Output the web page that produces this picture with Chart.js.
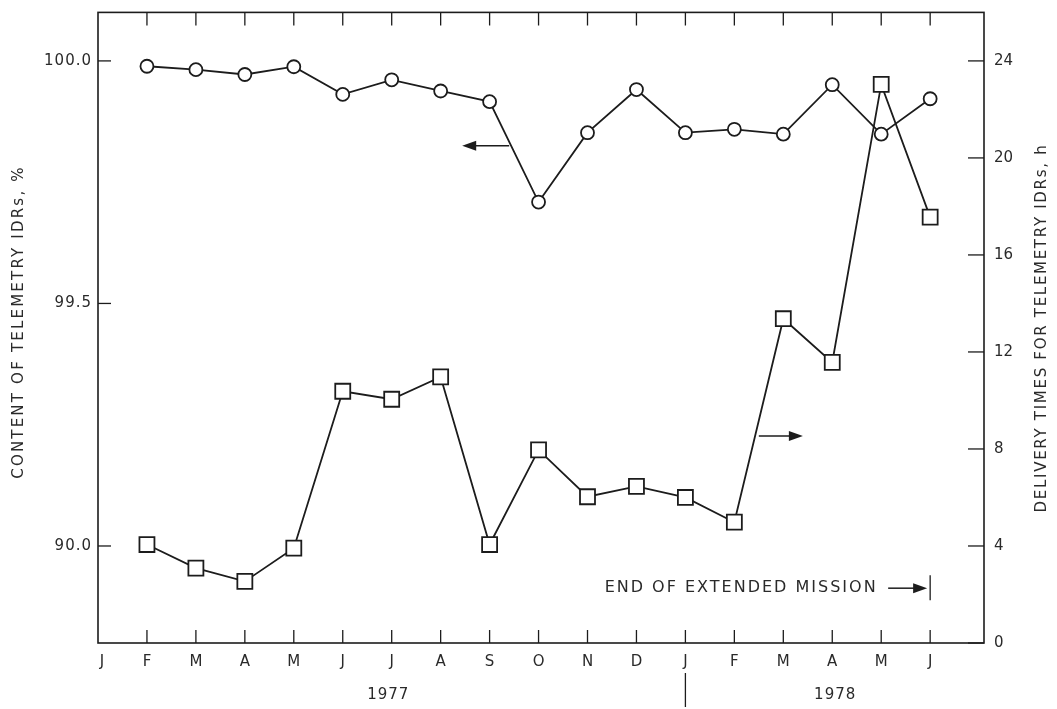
<!DOCTYPE html>
<html>
<head>
<meta charset="utf-8">
<script src="https://cdn.jsdelivr.net/npm/chart.js@4/dist/chart.umd.min.js"></script>
<style>
  html, body { margin: 0; padding: 0; background: #fff; }
</style>
</head>
<body>
<canvas id="chart" width="1057" height="709"></canvas>
<script>
// month ticks along the bottom, Jan 1977 .. Jun 1978 (index 0..17)
var months = ['J','F','M','A','M','J','J','A','S','O','N','D','J','F','M','A','M','J'];
// data runs Feb 1977 .. Jun 1978
var monthIndex = [1,2,3,4,5,6,7,8,9,10,11,12,13,14,15,16,17];

// content of telemetry IDRs, % (circles, left axis)
var contentPct = [99.989, 99.982, 99.972, 99.988, 99.931, 99.961, 99.938, 99.916,
                  99.709, 99.852, 99.941, 99.852, 99.859, 99.849, 99.951, 99.849, 99.922];
// delivery times for telemetry IDRs, h (squares, right axis)
var deliveryHours = [4.06, 3.09, 2.54, 3.91, 10.38, 10.05, 10.97, 4.06,
                     7.96, 6.03, 6.46, 6.0, 4.98, 13.37, 11.57, 23.03, 17.56];

var leftTicks = [99.0, 99.5, 100.0];
var leftTickLabels = ['90.0', '99.5', '100.0'];
var rightTicks = [0, 4, 8, 12, 16, 20, 24];
var years = ['1977', '1978'];
var yearPos = [5.93, 15.06];
var yearBreak = 12;
var missionEnd = 17;

var ink = '#1c1c1c';
var textInk = '#2a2a2a';
var font = '"DejaVu Sans", sans-serif';

function pts(vals) {
  return vals.map(function (v, i) { return { x: monthIndex[i], y: v }; });
}

function arrow(ctx, x1, y, x2) {
  // shaft from x1 to x2 with filled head at x2
  var dir = x2 > x1 ? 1 : -1;
  ctx.beginPath();
  ctx.moveTo(x1, y);
  ctx.lineTo(x2 - dir * 10, y);
  ctx.lineWidth = 1.5;
  ctx.stroke();
  ctx.beginPath();
  ctx.moveTo(x2, y);
  ctx.lineTo(x2 - dir * 14, y - 5);
  ctx.lineTo(x2 - dir * 14, y + 5);
  ctx.closePath();
  ctx.fill();
}

var frame = {
  id: 'frame',
  beforeDatasetsDraw: function (chart) {
    var ctx = chart.ctx, a = chart.chartArea;
    var sx = chart.scales.x, yl = chart.scales.yL, yr = chart.scales.yR;
    ctx.save();
    ctx.strokeStyle = ink;
    ctx.fillStyle = textInk;
    ctx.lineWidth = 1.6;
    ctx.strokeRect(a.left, a.top, a.right - a.left, a.bottom - a.top);

    // month ticks, top and bottom, pointing inward
    ctx.lineWidth = 1.3;
    ctx.font = '15px ' + font;
    ctx.textAlign = 'center';
    ctx.textBaseline = 'middle';
    months.forEach(function (m, i) {
      var x = sx.getPixelForValue(i);
      if (i > 0) {
        ctx.beginPath();
        ctx.moveTo(x, a.top); ctx.lineTo(x, a.top + 13);
        ctx.moveTo(x, a.bottom); ctx.lineTo(x, a.bottom - 13);
        ctx.stroke();
      }
      ctx.fillText(m, i === 0 ? x + 4 : x, a.bottom + 19);
    });

    // left axis
    ctx.textAlign = 'right';
    ctx.letterSpacing = '1px';
    leftTicks.forEach(function (v, i) {
      var y = yl.getPixelForValue(v);
      ctx.beginPath();
      ctx.moveTo(a.left, y); ctx.lineTo(a.left + 13, y);
      ctx.stroke();
      ctx.fillText(leftTickLabels[i], a.left - 6, y);
    });
    ctx.letterSpacing = '0px';

    // right axis
    ctx.textAlign = 'left';
    rightTicks.forEach(function (v) {
      var y = yr.getPixelForValue(v);
      ctx.beginPath();
      ctx.moveTo(a.right, y); ctx.lineTo(a.right - 16, y);
      ctx.stroke();
      ctx.fillText(String(v), a.right + 10, y);
    });

    // years
    ctx.textAlign = 'center';
    ctx.letterSpacing = '1px';
    years.forEach(function (t, i) {
      ctx.fillText(t, sx.getPixelForValue(yearPos[i]), a.bottom + 52);
    });
    ctx.letterSpacing = '0px';
    var xb = sx.getPixelForValue(yearBreak);
    ctx.beginPath();
    ctx.moveTo(xb, a.bottom + 30); ctx.lineTo(xb, a.bottom + 64);
    ctx.stroke();

    // axis titles
    ctx.font = '15px ' + font;
    ctx.save();
    ctx.letterSpacing = '2.2px';
    ctx.translate(19, 322);
    ctx.rotate(-Math.PI / 2);
    ctx.fillText('CONTENT OF TELEMETRY IDRs, %', 0, 0);
    ctx.restore();
    ctx.save();
    ctx.letterSpacing = '1.7px';
    ctx.translate(1042, 328);
    ctx.rotate(-Math.PI / 2);
    ctx.fillText('DELIVERY TIMES FOR TELEMETRY IDRs, h', 0, 0);
    ctx.restore();
    ctx.restore();
  },
  afterDatasetsDraw: function (chart) {
    var ctx = chart.ctx;
    var sx = chart.scales.x, yr = chart.scales.yR;
    ctx.save();
    ctx.strokeStyle = ink;
    ctx.fillStyle = ink;
    // series pointers
    arrow(ctx, sx.getPixelForValue(8.4), yr.getPixelForValue(20.5), sx.getPixelForValue(7.44));
    arrow(ctx, sx.getPixelForValue(13.5), yr.getPixelForValue(8.53), sx.getPixelForValue(14.4));

    // end of extended mission
    var yM = yr.getPixelForValue(2.26);
    var xM = sx.getPixelForValue(missionEnd);
    ctx.fillStyle = textInk;
    ctx.font = '16px ' + font;
    ctx.letterSpacing = '2px';
    ctx.textAlign = 'left';
    ctx.textBaseline = 'middle';
    ctx.fillText('END OF EXTENDED MISSION', sx.getPixelForValue(10.35), yM);
    ctx.letterSpacing = '0px';
    ctx.fillStyle = ink;
    arrow(ctx, xM - 42, yM, xM - 3);
    ctx.beginPath();
    ctx.lineWidth = 1.3;
    ctx.moveTo(xM, yM - 13); ctx.lineTo(xM, yM + 12);
    ctx.stroke();
    ctx.restore();
  }
};

new Chart(document.getElementById('chart').getContext('2d'), {
  type: 'line',
  data: {
    datasets: [{
      label: 'Content of telemetry IDRs, %',
      data: pts(contentPct),
      yAxisID: 'yL',
      borderColor: ink,
      borderWidth: 1.8,
      backgroundColor: '#fff',
      pointStyle: 'circle',
      pointRadius: 6.5,
      pointBorderWidth: 1.8,
      pointBackgroundColor: '#fff',
      pointBorderColor: ink,
      tension: 0
    }, {
      label: 'Delivery times for telemetry IDRs, h',
      data: pts(deliveryHours),
      yAxisID: 'yR',
      borderColor: ink,
      borderWidth: 1.8,
      backgroundColor: '#fff',
      pointStyle: 'rect',
      pointRadius: 10.6,
      pointBorderWidth: 1.8,
      pointBackgroundColor: '#fff',
      pointBorderColor: ink,
      tension: 0
    }]
  },
  options: {
    responsive: false,
    animation: false,
    layout: { padding: { left: 98, right: 73, top: 10, bottom: 66 } },
    plugins: { legend: { display: false }, tooltip: { enabled: false } },
    scales: {
      x: { type: 'linear', min: 0, max: 18.1, display: false },
      yL: { type: 'linear', position: 'left', min: 98.8, max: 100.1, display: false },
      yR: { type: 'linear', position: 'right', min: 0, max: 26, display: false }
    }
  },
  plugins: [frame]
});
</script>
</body>
</html>
